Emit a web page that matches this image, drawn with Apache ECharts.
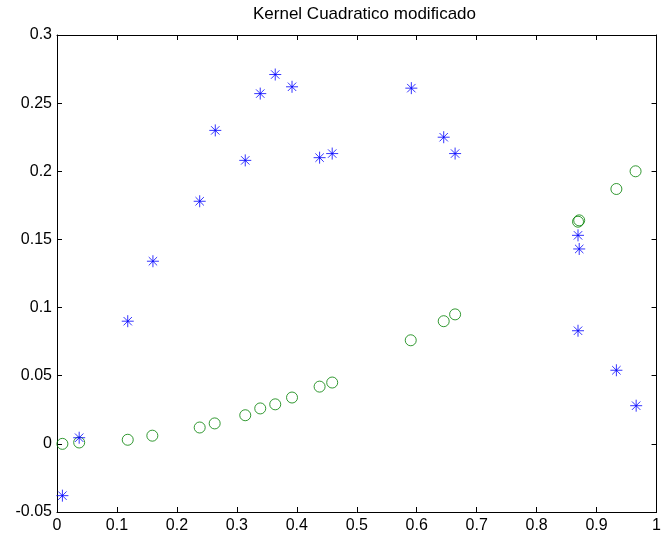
<!DOCTYPE html>
<html>
<head>
<meta charset="utf-8">
<script src="https://cdn.jsdelivr.net/npm/echarts@6/dist/echarts.min.js"></script>
<style>html,body{margin:0;padding:0;background:#fff}#c{width:664px;height:538px}</style>
</head>
<body>
<div id="c"></div>
<script>
var titleText = 'Kernel Cuadratico modificado';
var xTicks = [0, 0.1, 0.2, 0.3, 0.4, 0.5, 0.6, 0.7, 0.8, 0.9, 1];
var yTicks = [-0.05, 0, 0.05, 0.1, 0.15, 0.2, 0.25, 0.3];

var starX = [0.009, 0.037, 0.118, 0.160, 0.238, 0.264, 0.314, 0.339, 0.364, 0.392, 0.438, 0.459, 0.591, 0.645, 0.664, 0.869, 0.871, 0.869, 0.933, 0.966];
var starY = [-0.038, 0.0045, 0.090, 0.134, 0.178, 0.230, 0.208, 0.257, 0.271, 0.262, 0.210, 0.213, 0.261, 0.225, 0.213, 0.153, 0.143, 0.083, 0.054, 0.028];

var circX = [0.009, 0.037, 0.118, 0.159, 0.238, 0.263, 0.314, 0.339, 0.364, 0.392, 0.438, 0.459, 0.590, 0.645, 0.664, 0.869, 0.871, 0.933, 0.965];
var circY = [0.000, 0.001, 0.003, 0.006, 0.012, 0.015, 0.021, 0.026, 0.029, 0.034, 0.042, 0.045, 0.076, 0.090, 0.095, 0.163, 0.164, 0.187, 0.200];

function pairs(xs, ys) { return xs.map(function (x, i) { return [x, ys[i]]; }); }

var font = 'Liberation Sans, Arial, sans-serif';
var chart = echarts.init(document.getElementById('c'), null, { renderer: 'canvas' });

var baseX = {
  type: 'value', min: xTicks[0], max: xTicks[xTicks.length - 1], interval: 0.1,
  axisLine: { show: true, onZero: false, lineStyle: { color: '#000', width: 1 } },
  axisTick: { show: true, inside: true, length: 5, lineStyle: { color: '#000' } },
  splitLine: { show: false }
};
var baseY = {
  type: 'value', min: yTicks[0], max: yTicks[yTicks.length - 1], interval: 0.05,
  axisLine: { show: true, onZero: false, lineStyle: { color: '#000', width: 1 } },
  axisTick: { show: true, inside: true, length: 5, lineStyle: { color: '#000' } },
  splitLine: { show: false }
};
function fmt(v) {
  var r = Math.round(v * 1000) / 1000;
  return String(r);
}

var starPath = 'path://M0,-10L0,10M-10,0L10,0M-7,-7L7,7M-7,7L7,-7';

chart.setOption({
  animation: false,
  backgroundColor: '#fff',
  title: {
    text: titleText, left: 359.5, top: 1, textAlign: 'center',
    textStyle: { fontFamily: font, fontSize: 17, fontWeight: 'normal', color: '#000' }
  },
  grid: { left: 57, top: 35, right: 2, bottom: 26, containLabel: false },
  xAxis: [
    Object.assign({}, baseX, {
      position: 'bottom',
      axisLabel: { show: true, margin: 6, color: '#000', fontFamily: font, fontSize: 16, formatter: fmt }
    }),
    Object.assign({}, baseX, { position: 'top', axisLabel: { show: false } })
  ],
  yAxis: [
    Object.assign({}, baseY, {
      position: 'left',
      axisLabel: { show: true, margin: 5, color: '#000', fontFamily: font, fontSize: 16, formatter: fmt }
    }),
    Object.assign({}, baseY, { position: 'right', axisLabel: { show: false } })
  ],
  series: [
    {
      type: 'scatter', xAxisIndex: 0, yAxisIndex: 0,
      data: pairs(circX, circY),
      symbol: 'circle', symbolSize: 11,
      itemStyle: { color: 'rgba(0,0,0,0)', borderColor: '#008000', borderWidth: 1 }
    },
    {
      type: 'scatter', xAxisIndex: 0, yAxisIndex: 0,
      data: pairs(starX, starY),
      symbol: starPath, symbolSize: 12,
      itemStyle: { color: 'rgba(0,0,0,0)', borderColor: '#0000ff', borderWidth: 1 }
    }
  ]
});
</script>
</body>
</html>
